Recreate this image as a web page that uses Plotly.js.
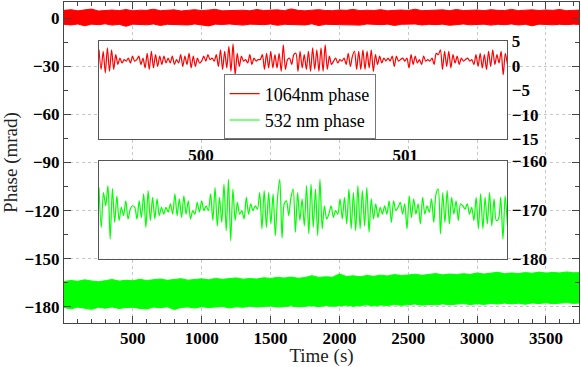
<!DOCTYPE html>
<html>
<head>
<meta charset="utf-8">
<script src="https://cdn.plot.ly/plotly-3.0.1.min.js"></script>
<style>
  html, body { margin: 0; padding: 0; background: #fff; }
  #phaseGraph { width: 581px; height: 367px; }
</style>
</head>
<body>
<div id="phaseGraph"></div>
<script>
// phase noise plot, 1064nm and 532nm, with two zoomed insets

// long run envelopes, one sample every 50 s
var bandStep = 50;
var redUpper = [4.8,5.2,4.5,4.9,5.6,4.4,4.7,5.0,4.6,5.3,4.5,4.9,4.8,5.5,4.6,4.7,5.1,4.4,4.9,5.2,
    4.6,4.8,5.4,4.5,4.7,5.0,4.9,4.5,5.3,4.7,4.8,5.1,4.6,5.7,4.8,4.5,4.9,5.2,4.7,4.6,
    5.0,4.8,5.4,4.6,4.9,4.7,5.2,4.5,4.8,5.0,4.7,5.5,4.6,4.9,4.8,5.1,4.6,5.3,4.7,4.9,
    5.0,4.6,5.2,4.8,4.7,5.4,4.6,4.9,5.1,4.7,5.0,4.8,5.3,4.6,4.9,5.0];
var redLower = [-3.9,-4.3,-3.7,-4.8,-3.8,-4.1,-3.6,-4.4,-3.9,-5.1,-3.8,-4.0,-4.2,-3.7,-4.6,-3.9,-4.0,-3.8,-4.3,-3.7,
    -4.1,-4.9,-3.8,-4.0,-3.7,-4.2,-4.4,-3.8,-3.9,-4.1,-3.7,-4.5,-3.9,-4.0,-3.8,-4.3,-3.6,-4.7,-3.9,-4.0,
    -3.8,-4.2,-3.9,-4.4,-3.7,-4.0,-4.1,-3.8,-4.6,-3.9,-4.0,-3.7,-4.3,-3.9,-4.1,-3.8,-4.5,-3.9,-3.7,-4.2,
    -4.0,-3.8,-4.4,-3.9,-4.1,-3.7,-4.3,-3.9,-4.8,-3.8,-4.0,-4.2,-3.9,-4.1,-3.8,-4.0];
var greenUpper = [-164.2,-163.5,-164.0,-163.1,-163.8,-164.3,-163.6,-162.9,-163.9,-163.4,
    -163.7,-162.8,-163.5,-163.2,-162.6,-163.4,-163.0,-162.4,-163.3,-162.9,
    -162.5,-163.1,-162.2,-162.8,-162.4,-161.9,-162.7,-162.3,-162.6,-161.8,
    -162.2,-161.6,-162.0,-161.4,-162.1,-161.7,-160.5,-161.6,-161.2,-161.5,
    -159.4,-161.0,-160.6,-161.2,-160.4,-160.9,-160.2,-160.7,-159.8,-160.4,
    -160.1,-159.6,-160.3,-159.9,-159.2,-160.0,-159.5,-159.8,-159.3,-159.7,
    -158.9,-159.5,-159.1,-158.4,-159.3,-158.8,-159.2,-158.6,-159.0,-158.3,
    -158.9,-158.5,-158.8,-158.2,-158.7,-158.6];
var greenLower = [-180.3,-181.2,-180.1,-180.6,-181.5,-180.2,-180.8,-180.0,-181.0,-180.4,
    -180.2,-180.9,-181.3,-180.1,-180.5,-179.9,-181.6,-180.3,-180.0,-180.7,
    -179.8,-180.4,-180.1,-179.7,-180.6,-179.9,-180.2,-179.5,-180.0,-179.8,
    -179.4,-180.1,-179.6,-179.3,-179.9,-179.5,-179.2,-179.8,-179.1,-179.6,
    -179.3,-178.9,-179.5,-179.0,-178.7,-179.3,-178.8,-179.1,-178.5,-179.0,
    -178.6,-178.2,-178.9,-178.4,-178.7,-178.1,-178.6,-178.3,-177.9,-178.5,
    -178.0,-178.4,-177.8,-178.2,-177.6,-178.1,-177.7,-178.3,-177.5,-177.9,
    -177.4,-178.0,-177.6,-177.3,-177.8,-177.5];

// zoomed window 499.5 s .. 501.5 s, evenly sampled extrema
var zoomStart = 499.5;
var zoomEnd = 501.5;
var redZoom = [3.3,-0.7,3.0,-1.4,3.7,-1.1,3.3,-0.7,2.3,0.3,1.6,0.6,1.3,1.0,1.6,0.6,2.0,1.0,1.3,2.0,
    0.3,1.6,-0.4,2.6,-0.7,3.0,-0.4,2.3,-0.1,2.0,0.3,2.0,0.6,1.6,0.6,2.0,0.3,1.3,0.6,2.3,
    -0.1,2.0,0.3,2.6,-0.4,2.0,-0.1,1.6,0.6,1.0,2.0,1.0,2.3,1.3,1.6,1.0,2.3,-0.1,3.3,-0.7,
    3.0,-0.4,4.0,-1.1,4.5,-1.8,2.6,-0.1,2.0,1.0,1.3,0.6,2.3,0.3,1.6,1.0,1.3,1.3,2.3,-0.7,
    2.6,-0.4,3.0,-0.4,2.3,-0.4,2.6,-1.1,4.3,-0.7,1.3,1.6,0.3,2.3,2.6,-1.1,3.0,-0.4,2.3,-0.7,
    3.0,-1.1,3.7,-0.7,3.3,-1.1,3.7,-1.1,4.3,-0.7,2.0,0.3,1.0,1.6,0.6,1.3,1.0,1.6,0.3,2.6,
    -0.1,2.0,3.0,-0.7,3.0,-0.7,3.3,-0.7,3.0,-0.4,3.3,-1.1,2.3,0.3,2.0,0.6,1.6,1.0,1.6,1.0,
    2.0,-0.1,2.0,1.0,1.3,1.6,1.0,1.6,-0.4,2.3,0.3,2.0,0.6,1.3,0.3,2.0,1.0,1.3,1.0,1.6,
    0.3,2.6,2.3,3.3,-0.7,3.0,-0.1,3.0,-0.4,2.3,0.6,2.0,0.3,1.6,1.0,1.3,1.6,1.0,1.3,0.3,
    2.3,-0.1,2.6,-0.4,2.3,-0.7,3.0,-0.1,3.3,0.3,2.3,0.6,3.0,-1.8,2.6,0.3];
var greenZoom = [-165.5,-173.6,-166.5,-169.2,-165.1,-176.0,-165.7,-172.6,-167.2,-172.2,
    -169.5,-171.2,-168.2,-171.9,-169.9,-169.2,-169.5,-171.9,-168.2,-171.6,
    -166.8,-173.6,-166.1,-172.2,-167.5,-171.9,-167.8,-171.2,-169.5,-170.9,
    -169.5,-170.5,-168.8,-170.9,-166.8,-171.2,-167.8,-171.6,-167.2,-170.9,
    -168.2,-171.9,-170.2,-170.9,-168.5,-170.5,-168.2,-170.2,-169.2,-170.2,
    -166.8,-172.2,-165.5,-173.3,-167.5,-172.6,-164.8,-174.3,-163.8,-176.3,
    -165.8,-172.2,-168.5,-170.9,-170.2,-171.9,-167.5,-170.9,-168.8,-170.2,
    -169.2,-169.9,-166.5,-173.9,-166.1,-173.6,-166.5,-172.9,-166.8,-175.3,
    -167.5,-163.8,-175.8,-168.8,-168.2,-171.2,-167.5,-165.8,-174.6,-166.5,
    -172.2,-167.8,-173.3,-165.1,-174.9,-164.8,-173.6,-165.8,-175.3,-163.8,
    -173.9,-169.2,-171.9,-170.9,-169.2,-171.6,-170.2,-170.9,-167.8,-171.9,
    -167.5,-172.9,-165.8,-173.9,-166.5,-174.3,-165.1,-173.9,-166.1,-173.3,
    -165.5,-174.6,-167.8,-171.9,-168.8,-171.6,-169.5,-170.9,-169.2,-170.9,
    -168.2,-172.6,-168.2,-170.2,-169.5,-168.5,-170.9,-168.8,-173.9,-167.2,
    -171.6,-167.8,-170.9,-168.8,-172.9,-167.5,-170.9,-169.2,-170.5,-167.8,
    -172.6,-166.8,-165.8,-174.9,-166.5,-172.6,-166.1,-172.9,-167.5,-170.9,
    -168.2,-172.2,-168.8,-169.2,-169.9,-168.8,-170.9,-169.5,-172.2,-167.5,
    -173.9,-166.8,-173.9,-167.5,-172.9,-166.5,-173.3,-167.8,-172.2,-171.9,
    -167.5,-176.0,-167.2,-173.3];

// tick labels
var mainTimeTicks = [500, 1000, 1500, 2000, 2500, 3000, 3500];
var zoomTimeTicks = [500, 501];

// sample times
function bandTimes(n) {
    var t = [];
    for (var i = 0; i < n; i++) t.push(i * bandStep);
    return t;
}
function zoomTimes(n) {
    var t = [];
    for (var i = 0; i < n; i++) t.push(zoomStart + i * (zoomEnd - zoomStart) / (n - 1));
    return t;
}

var RED = '#ff0000';
var GREEN = '#00ff00';
var serif = 'Liberation Serif';
var boldTicks = { family: serif, size: 17, color: '#000', weight: 'bold' };

// main plot bands ------------------------------------------
var redLow = {
    x: bandTimes(redLower.length), y: redLower,
    type: 'scatter', mode: 'lines', showlegend: false, hoverinfo: 'skip',
    line: { color: RED, width: 1 }
};
var redHigh = {
    x: bandTimes(redUpper.length), y: redUpper,
    type: 'scatter', mode: 'lines', showlegend: false, hoverinfo: 'skip',
    fill: 'tonexty', fillcolor: RED,
    line: { color: RED, width: 1 }
};
var greenLow = {
    x: bandTimes(greenLower.length), y: greenLower,
    type: 'scatter', mode: 'lines', showlegend: false, hoverinfo: 'skip',
    line: { color: GREEN, width: 1 }
};
var greenHigh = {
    x: bandTimes(greenUpper.length), y: greenUpper,
    type: 'scatter', mode: 'lines', showlegend: false, hoverinfo: 'skip',
    fill: 'tonexty', fillcolor: GREEN,
    line: { color: GREEN, width: 1 }
};

// insets ---------------------------------------------------
var redInset = {
    x: zoomTimes(redZoom.length), y: redZoom,
    xaxis: 'x2', yaxis: 'y2',
    type: 'scatter', mode: 'lines', name: '1064nm phase',
    line: { color: RED, width: 1.2, shape: 'spline', smoothing: 0.8 }
};
var greenInset = {
    x: zoomTimes(greenZoom.length), y: greenZoom,
    xaxis: 'x3', yaxis: 'y3',
    type: 'scatter', mode: 'lines', name: '532 nm phase',
    line: { color: GREEN, width: 1.2, shape: 'spline', smoothing: 0.8 }
};

var insetAxis = {
    showline: true, mirror: true, linecolor: '#555', linewidth: 1,
    showgrid: false, zeroline: false, ticks: '', automargin: false,
    tickfont: boldTicks
};

var layout = {
    width: 581,
    height: 367,
    margin: { l: 64, r: 2, t: 2, b: 44 },
    paper_bgcolor: '#fff',
    plot_bgcolor: '#fff',
    showlegend: true,
    legend: {
        x: 0.31, y: 0.572, xanchor: 'left', yanchor: 'bottom',
        traceorder: 'normal',
        bgcolor: '#fff', bordercolor: '#777', borderwidth: 1,
        font: { family: serif, size: 18, color: '#000' },
        tracegroupgap: 0
    },
    xaxis: {
        domain: [0, 1],
        range: [0, 3740],
        tickvals: mainTimeTicks,
        ticks: 'inside', ticklen: 7, tickcolor: '#444',
        showline: true, mirror: 'ticks', linecolor: '#444', linewidth: 1,
        showgrid: true, gridcolor: '#c8c8c8', griddash: 'dot',
        zeroline: false, automargin: false,
        minor: { dtick: 100, tick0: 0, ticks: 'inside', ticklen: 4, tickcolor: '#444' },
        tickfont: boldTicks,
        title: { text: 'Time (s)', font: { family: serif, size: 19, color: '#222' } }
    },
    yaxis: {
        domain: [0, 1],
        range: [-190, 10],
        tick0: 0, dtick: 30,
        ticks: 'inside', ticklen: 7, tickcolor: '#444',
        showline: true, mirror: 'ticks', linecolor: '#444', linewidth: 1,
        showgrid: true, gridcolor: '#c8c8c8', griddash: 'dot',
        zeroline: false, automargin: false,
        minor: { dtick: 15, ticks: 'inside', ticklen: 4, tickcolor: '#444' },
        tickfont: boldTicks,
        title: { text: 'Phase (mrad)', font: { family: serif, size: 19, color: '#222' } }
    },
    xaxis2: Object.assign({}, insetAxis, {
        domain: [0.068, 0.861], anchor: 'y2',
        range: [zoomStart, zoomEnd], tickvals: zoomTimeTicks
    }),
    yaxis2: Object.assign({}, insetAxis, {
        domain: [0.572, 0.877], anchor: 'x2', side: 'right',
        range: [-15, 5], tickvals: [-15, -10, -5, 0, 5]
    }),
    xaxis3: Object.assign({}, insetAxis, {
        domain: [0.068, 0.861], anchor: 'y3',
        range: [zoomStart, zoomEnd], showticklabels: false
    }),
    yaxis3: Object.assign({}, insetAxis, {
        domain: [0.200, 0.506], anchor: 'x3', side: 'right',
        range: [-180, -160], tickvals: [-180, -170, -160]
    })
};

var config = { displayModeBar: false, responsive: false };

var phaseData = [redLow, redHigh, greenLow, greenHigh, redInset, greenInset];
Plotly.newPlot('phaseGraph', phaseData, layout, config);
</script>
</body>
</html>
